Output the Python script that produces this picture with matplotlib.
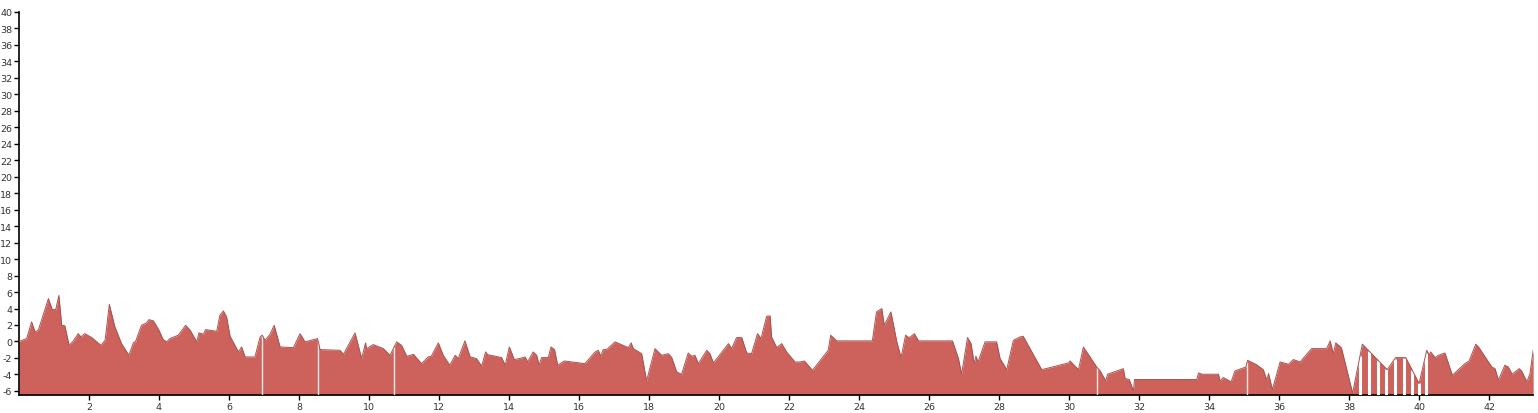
import matplotlib
matplotlib.use("Agg")
import matplotlib.pyplot as plt
import numpy as np

plt.rcParams["axes.unicode_minus"] = False

# distance (km) and elevation (m)
dist_km = [
    0.00, 0.22, 0.36, 0.46, 0.55, 0.84, 0.95, 1.05, 1.14, 1.22, 1.31, 1.43, 1.55, 1.69,
    1.77, 1.88, 2.08, 2.34, 2.46, 2.58, 2.74, 2.93, 3.14, 3.27, 3.33, 3.50, 3.64, 3.71,
    3.84, 4.00, 4.12, 4.22, 4.31, 4.55, 4.76, 4.89, 5.08, 5.14, 5.27, 5.33, 5.65, 5.74,
    5.84, 5.93, 6.03, 6.27, 6.36, 6.46, 6.74, 6.89, 6.95, 7.03, 7.17, 7.29, 7.46, 7.84,
    8.03, 8.17, 8.53, 8.60, 9.17, 9.27, 9.60, 9.79, 9.90, 9.93, 10.12, 10.41, 10.60,
    10.79, 10.93, 11.08, 11.27, 11.50, 11.69, 11.78, 11.98, 12.12, 12.31, 12.46, 12.55,
    12.74, 12.89, 13.07, 13.22, 13.33, 13.39, 13.79, 13.89, 14.01, 14.15, 14.29, 14.46,
    14.53, 14.69, 14.79, 14.86, 14.93, 15.12, 15.20, 15.30, 15.39, 15.58, 16.17, 16.46,
    16.55, 16.62, 16.69, 16.79, 17.03, 17.41, 17.49, 17.55, 17.79, 17.93, 18.17, 18.36,
    18.55, 18.65, 18.79, 18.93, 19.12, 19.22, 19.31, 19.41, 19.65, 19.74, 19.84, 20.27,
    20.36, 20.50, 20.65, 20.79, 20.93, 21.10, 21.20, 21.36, 21.46, 21.50, 21.65, 21.79,
    21.93, 22.17, 22.31, 22.44, 22.67, 23.12, 23.19, 23.36, 24.38, 24.50, 24.65, 24.72,
    24.91, 25.08, 25.20, 25.33, 25.42, 25.49, 25.58, 25.70, 26.67, 26.84, 26.93, 27.10,
    27.20, 27.29, 27.34, 27.40, 27.60, 27.93, 28.03, 28.22, 28.41, 28.60, 28.69, 29.22,
    29.98, 30.03, 30.27, 30.41, 30.79, 30.89, 31.05, 31.10, 31.55, 31.60, 31.72, 31.84,
    31.87, 33.65, 33.70, 33.80, 34.27, 34.31, 34.41, 34.63, 34.74, 35.05, 35.10, 35.20,
    35.34, 35.55, 35.65, 35.70, 35.81, 36.03, 36.27, 36.41, 36.60, 36.93, 37.36, 37.46,
    37.55, 37.62, 37.78, 38.07, 38.10, 38.38, 39.09, 39.33, 39.62, 40.00, 40.22, 40.29,
    40.33, 40.46, 40.55, 40.74, 40.95, 41.31, 41.43, 41.62, 41.70, 42.08, 42.17, 42.27,
    42.45, 42.55, 42.66, 42.86, 42.93, 43.08, 43.17, 43.26,
]
elev_m = [
    0.0, 0.35, 2.37, 1.15, 1.35, 5.2, 3.87, 3.87, 5.6, 1.96, 1.9, -0.47, 0.05, 0.95,
    0.55, 0.95, 0.47, -0.47, 0.14, 4.5, 1.76, -0.26, -1.68, -0.14, 0.0, 1.96, 2.25, 2.65,
    2.5, 1.36, 0.23, -0.05, 0.35, 0.76, 1.96, 1.36, -0.05, 1.05, 0.88, 1.44, 1.24, 3.18,
    3.7, 2.98, 0.63, -1.27, -0.67, -1.88, -1.88, 0.55, 0.76, 0.14, 0.85, 1.96, -0.67, -0.75,
    0.95, -0.05, 0.35, -0.99, -1.07, -1.56, 1.04, -2.08, -0.17, -0.87, -0.38, -0.87, -1.68,
    -0.05, -0.47, -1.8, -1.56, -2.69, -1.88, -1.8, -0.17, -1.68, -2.89, -1.68, -2.08,
    0.07, -1.88, -2.08, -3.0, -1.27, -1.6, -1.96, -2.89, -0.67, -2.2, -2.08, -1.88,
    -2.49, -1.27, -1.68, -2.89, -1.96, -1.96, -0.67, -0.99, -2.89, -2.37, -2.69, -1.27,
    -1.07, -1.8, -0.99, -0.99, -0.05, -0.75, -0.17, -0.87, -1.48, -4.79, -0.87, -1.68,
    -1.48, -1.96, -3.7, -3.98, -1.4, -1.8, -1.68, -2.69, -1.07, -1.48, -2.61, -0.26,
    -0.87, 0.47, 0.47, -1.4, -1.48, 0.95, 0.35, 3.06, 3.1, 0.55, -0.75, -0.26,
    -1.27, -2.49, -2.49, -2.37, -3.5, -1.07, 0.76, 0.07, 0.07, 3.59, 3.99, 1.96,
    3.59, -0.05, -1.96, 0.76, 0.47, 0.63, 0.95, 0.07, 0.07, -2.08, -3.98, 0.47,
    -0.26, -2.69, -1.8, -2.49, -0.05, -0.05, -2.08, -3.42, 0.14, 0.55, 0.63, -3.42,
    -2.61, -2.37, -3.42, -0.67, -3.1, -3.58, -4.79, -3.98, -3.3, -4.5, -4.62, -6.0,
    -4.62, -4.62, -3.82, -3.98, -3.98, -4.79, -4.38, -4.9, -3.58, -3.1, -2.29, -2.49,
    -2.77, -3.42, -4.7, -3.9, -5.84, -2.49, -2.77, -2.2, -2.49, -0.87, -0.87, 0.07,
    -1.48, -0.17, -0.75, -5.72, -6.3, -0.33, -3.42, -1.96, -1.96, -5.1, -1.07, -1.68,
    -1.27, -1.96, -1.68, -1.4, -4.1, -2.69, -2.37, -0.34, -0.67, -3.1, -3.3, -4.7,
    -2.89, -3.1, -3.98, -3.3, -3.58, -4.9, -3.9, -1.07,
]

# breaks in the track, drawn as thin white gaps
gap_thin_km = [6.95, 8.53, 10.72, 30.79, 35.08]
gap_wide_km = [38.31, 38.57, 38.83, 39.06, 39.31, 39.57, 39.80, 40.00, 40.20]

y_ticks = list(range(-6, 41, 2))
x_ticks = list(range(2, 43, 2))

fill_color = "#cd625c"
edge_color = "#a9524e"
y_floor = -6.5

fig = plt.figure(figsize=(15.38, 4.14), dpi=100)
ax = fig.add_axes([0.01235, 0.0435, 0.9845, 0.9251])

x = np.array(dist_km)
y = np.array(elev_m)
ax.fill_between(x, y_floor, y, color=fill_color, lw=0, zorder=2)

thin_top = np.interp(gap_thin_km, x, y)
ax.vlines(gap_thin_km, y_floor, thin_top, colors="white", lw=1.0, alpha=0.85, zorder=3)
wide_top = np.interp(gap_wide_km, x, y)
ax.vlines(gap_wide_km, y_floor, wide_top, colors="white", lw=2.2, zorder=3)

ax.plot(x, y, color=edge_color, lw=0.7, zorder=4)

ax.set_xlim(0, x[-1])
ax.set_ylim(y_floor, 40)
ax.set_xticks(x_ticks)
ax.set_yticks(y_ticks)
ax.tick_params(axis="both", labelsize=6.8, labelcolor="#333333", length=3.5, width=1, pad=1.5)

for side in ("top", "right"):
    ax.spines[side].set_visible(False)
for side in ("left", "bottom"):
    ax.spines[side].set_linewidth(1.2)

fig.savefig("out.png", dpi=100)
